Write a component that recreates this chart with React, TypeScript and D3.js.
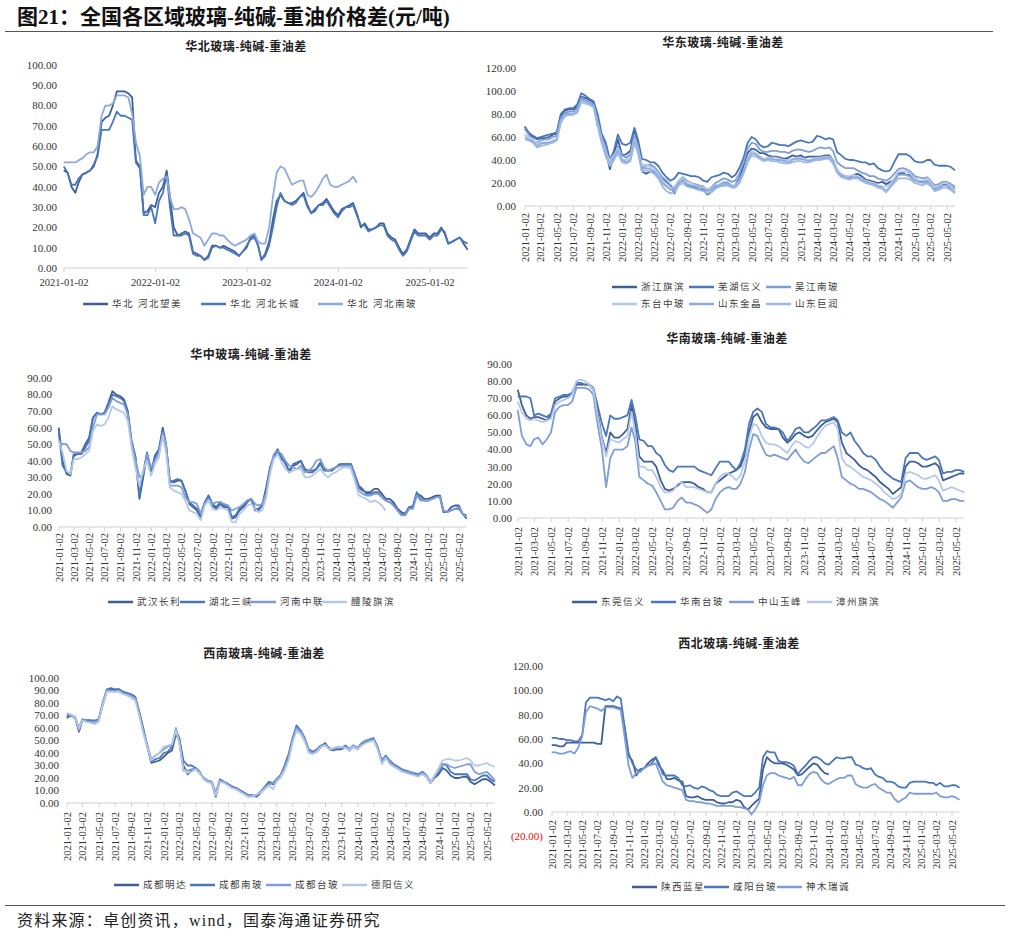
import React from 'react';
import * as d3 from 'd3';

// semi-monthly sampling grid: 2021-01-01 ... 2025-06-01 (107 points)
const MONTHS = d3.timeMonth.range(new Date(2021, 0, 1), new Date(2025, 6, 1));
const DATES: Date[] = MONTHS.flatMap(m => [m, d3.timeDay.offset(m, 15)]).slice(0, 107);

// 华北
const HB_WANGMEI = [48,47,40,37,42,46,47,48,50,56, 72,74,75,80,87,87,87,86,84,53, 50,27,28,31,30,37,40,48,35,20, 16,17,18,17,8,7,6,4,6,11, 11,10,11,10,9,8,6,8,10,15, 16,11,4,7,13,24,33,36,33,32, 32,33,35,37,31,27,29,31,32,34, 31,28,26,29,30,31,32,27,20,22, 19,19,20,22,22,17,15,14,10,7, 9,14,19,17,17,17,15,17,17,20, 17,12,13,14,15,12,9];
const HB_CHANGCHENG = [50,47,41,41,44,46,47,48,51,55, 68,68,68,72,77,75,75,74,73,52, 49,26,26,30,22,33,37,46,30,16, 16,16,17,16,7,6,6,4,5,10, 11,10,10,9,8,7,6,8,11,14, 15,11,4,6,11,20,30,37,33,32, 31,32,35,36,30,27,28,31,31,33, 30,27,25,28,30,30,31,26,21,21, 18,19,20,21,21,16,14,13,9,6, 8,13,18,16,16,16,14,16,16,19, 18,12,13,14,15,13,12];
const HB_NANBO = [52,52,52,52,53,54,56,57,57,60, 75,80,80,81,85,85,85,84,76,62, 55,36,40,40,36,42,44,45,35,29, 29,30,29,24,17,16,15,11,14,17, 17,16,16,14,12,11,12,13,14,16, 17,13,12,12,20,35,47,50,49,45, 41,42,43,43,36,35,37,40,44,46, 41,40,40,41,42,43,45,42];

// 华东
const HD_ZJQB = [69,63,60,58,59,59,60,62,63,78, 83,84,84,86,95,94,92,90,70,62, 48,32,45,58,44,45,48,66,55,30, 28,30,29,26,24,21,18,11,20,23, 18,17,16,14,14,10,12,16,17,18, 18,17,18,24,35,46,50,49,46,46, 44,43,43,42,41,42,44,43,44,42, 43,43,43,43,44,44,40,30,27,26, 25,27,28,26,23,22,21,20,21,19, 21,22,28,29,27,27,24,22,21,20, 18,15,17,19,19,17,15];
const HD_WHXY = [69,64,61,59,60,61,62,63,64,80, 84,85,85,88,98,96,93,91,80,63, 55,40,48,62,54,53,55,68,58,41, 40,38,38,35,29,25,22,24,29,28, 27,26,26,25,22,21,25,26,27,29, 28,25,27,33,42,55,60,58,53,51, 52,55,54,53,53,52,54,56,57,56, 55,56,61,60,58,59,58,47,44,41, 40,40,39,38,38,36,37,33,31,30, 31,38,45,45,45,43,39,38,38,40, 40,36,35,35,35,34,31];
const HD_WJNB = [67,62,57,55,57,58,58,60,61,76, 81,82,82,84,94,92,90,88,74,60, 50,35,40,52,44,42,45,62,52,33, 35,36,34,30,25,22,18,15,22,25, 22,20,19,18,17,14,16,20,22,24, 23,21,22,28,38,50,55,54,49,47, 47,48,48,47,47,46,48,49,49,48, 47,48,50,51,50,51,48,38,35,33, 33,33,31,29,28,26,26,24,23,22, 24,28,32,33,32,30,26,25,24,25, 22,18,19,21,21,19,17];
const HD_DTZB = [62,60,58,54,55,55,55,57,58,72, 78,79,79,81,90,89,88,86,72,58, 46,40,44,50,40,40,42,58,50,36, 36,34,32,28,22,18,15,17,22,24, 21,20,18,17,16,15,15,18,19,21, 21,18,18,22,30,42,48,46,43,41, 42,42,42,41,40,40,41,42,42,41, 40,41,42,42,43,43,40,32,28,26, 26,27,26,24,22,21,20,18,17,17, 19,24,30,30,30,28,24,22,22,24, 21,16,17,20,20,17,14];
const HD_SDJJ = [60,58,56,52,54,55,55,56,58,74, 80,80,80,82,92,91,89,87,72,56, 44,36,42,48,40,38,40,56,48,32, 33,32,30,26,20,17,14,14,20,22, 19,18,17,16,15,13,14,17,18,20, 20,17,17,21,30,40,46,45,42,40, 41,41,40,40,39,38,40,41,41,40, 39,40,41,41,42,42,39,30,26,25, 24,25,25,23,21,20,19,17,16,13, 17,22,27,27,27,25,22,21,20,22, 19,14,15,18,18,15,12];
const HD_SDJR = [58,57,55,51,52,53,54,55,57,73, 79,79,80,81,91,90,88,86,70,55, 43,35,40,46,38,37,39,55,46,30, 31,30,28,24,17,13,11,12,18,20, 17,16,15,14,13,11,12,15,17,18, 18,16,16,20,28,38,44,43,41,39, 40,39,39,38,37,37,38,39,39,38, 38,39,40,40,41,41,37,29,25,24, 23,24,24,22,20,19,18,16,15,12, 16,20,24,24,24,23,20,19,18,20, 18,13,14,16,16,14,11];

// 华中
const HZ_WHCL = [60,40,32,31,43,44,45,50,54,66, 69,68,69,75,82,80,79,77,70,52, 42,17,30,44,33,43,47,60,50,28, 27,28,28,22,14,12,10,6,14,19, 13,11,14,12,12,5,6,10,12,15, 17,10,10,13,24,36,43,47,41,39, 33,37,38,40,35,34,34,35,39,35, 34,34,36,38,38,38,38,31,24,22, 21,21,23,23,20,17,17,15,11,9, 8,12,12,20,19,17,17,18,19,19, 10,9,12,13,13,8,5];
const HZ_HBSX = [57,37,33,32,44,44,44,48,52,66, 69,68,69,74,80,79,78,76,68,50, 40,18,33,45,34,41,46,58,49,27, 28,29,28,22,15,13,11,8,15,19, 14,12,15,13,13,6,7,11,13,16, 17,11,11,13,22,35,42,46,42,38, 34,38,39,40,34,33,33,35,38,34, 34,35,36,37,38,38,38,32,25,23, 20,20,21,21,18,16,15,14,10,8, 7,11,13,21,17,16,16,17,18,18, 9,9,10,11,11,8,7];
const HZ_HNZL = [52,50,50,46,45,45,45,46,48,60, 68,68,68,72,78,76,75,74,68,50, 40,30,32,44,36,40,45,57,50,25, 25,25,24,18,15,15,14,8,14,17, 14,15,15,14,13,10,11,12,14,16, 17,14,13,14,20,34,44,46,44,40, 37,36,35,37,33,34,36,40,41,36, 34,35,36,37,37,37,37,30,22,20, 19,19,20,20,18,16,15,13,10,7, 7,11,11,19,16,16,16,17,18,18, 10,9,10,11,12,8,6];
const HZ_LLQB = [52,45,34,32,41,41,42,44,46,58, 62,61,62,66,73,71,70,69,64,48, 35,25,35,40,31,38,42,55,45,24, 22,21,20,16,10,9,8,4,13,16, 11,10,12,11,10,3,3,8,10,13, 14,11,9,10,18,32,41,44,39,35, 33,34,35,35,30,30,31,33,35,32, 30,32,33,35,36,36,35,28,19,18, 17,15,16,15,13,10];

// 华南
const HN_DGXY = [75,66,60,58,59,59,58,57,60,68, 70,71,71,73,78,78,78,78,75,62, 47,38,50,47,47,49,52,66,55,36, 33,33,33,30,22,17,16,17,19,21, 21,21,20,18,17,15,15,20,22,24, 26,27,28,30,37,50,59,61,56,53, 52,52,52,47,44,46,49,50,48,47, 48,51,54,56,57,58,56,44,38,36, 34,31,29,28,26,24,21,19,17,14, 16,18,30,33,33,32,30,30,31,32, 30,22,23,24,25,26,26];
const HN_HNTB = [71,71,71,70,60,61,60,59,61,70, 71,72,72,73,79,79,78,78,76,66, 55,48,60,58,58,59,60,69,60,46, 45,42,42,38,36,31,28,27,30,30, 30,30,30,28,27,26,25,29,33,33, 33,30,28,32,40,55,62,64,62,55, 53,53,52,50,45,48,52,53,50,50, 52,54,57,57,58,59,57,50,48,50, 45,42,38,36,36,34,30,27,25,23, 22,21,35,38,38,38,35,34,35,36, 34,26,27,27,28,28,27];
const HN_ZSYF = [63,48,43,42,46,47,43,46,50,62, 65,66,66,68,76,76,76,75,72,55, 40,18,35,40,40,40,42,53,45,24, 22,20,19,15,10,5,5,6,10,12, 9,9,8,7,5,3,5,11,15,17, 18,17,17,20,27,40,49,48,42,37, 36,37,36,35,34,37,40,36,33,32, 34,36,38,38,40,42,35,24,22,20, 19,17,17,16,15,13,11,10,8,6, 9,12,21,22,20,18,17,17,18,17, 15,10,10,11,11,10,10];
const HN_ZZQB = [68,62,58,57,58,57,56,57,58,66, 68,69,70,72,80,81,80,78,75,60, 46,36,46,45,44,46,48,62,50,30, 30,28,28,24,18,15,15,16,20,21, 18,18,18,17,16,15,15,20,24,26, 26,24,22,25,33,47,55,54,48,44, 43,43,42,40,38,42,45,44,42,41, 43,47,51,54,55,56,52,35,31,30, 28,26,24,23,22,20,18,15,13,11, 12,14,26,27,26,25,23,23,24,25, 22,16,17,18,17,16,15];

// 西南
const XN_CDMD = [68,70,69,57,66,66,66,65,66,78, 90,91,90,91,89,88,87,85,73,60, 45,32,33,34,37,40,42,55,50,30, 23,26,28,25,19,17,16,5,18,17, 15,13,12,10,8,6,6,5,8,12, 16,15,18,21,28,37,50,60,57,51, 42,40,41,45,48,43,42,43,43,45, 42,45,43,47,49,50,51,45,33,37, 33,30,28,26,25,24,23,22,24,21, 16,20,23,28,26,22,20,20,21,21, 17,15,17,19,19,17,14];
const XN_CDNB = [70,70,69,60,67,66,66,66,67,80, 91,92,91,91,89,88,86,84,72,58, 44,33,35,36,40,41,45,58,52,34, 30,30,28,24,20,18,17,8,19,17, 15,13,12,10,8,6,6,6,9,13, 17,16,19,22,30,39,52,62,58,52, 43,41,43,46,47,44,43,44,44,46, 43,46,44,48,50,51,52,44,34,38, 34,31,29,27,26,25,24,23,25,22, 17,21,25,31,30,25,23,23,23,23, 19,18,20,22,22,19,17];
const XN_CDTB = [71,70,68,58,67,65,65,65,66,79, 90,90,89,90,88,87,86,84,71,58, 46,35,38,40,43,45,46,60,48,26, 26,27,27,24,20,18,17,7,18,17, 14,12,11,9,7,5,6,6,9,12, 15,16,19,21,28,36,50,60,57,51, 42,40,42,45,47,43,43,44,44,45, 43,46,44,48,50,50,51,44,33,37, 33,30,28,26,25,25,23,22,24,22, 16,21,26,31,31,29,28,29,30,31, 31,25,23,24,25,22,18];
const XN_DYXY = [72,71,69,60,66,65,64,63,65,78, 89,89,89,89,87,86,84,82,70,56, 44,34,38,40,45,46,47,58,48,27, 24,25,27,24,19,17,16,6,17,16, 14,12,11,9,7,5,5,7,8,11, 14,11,17,20,26,34,48,58,55,49, 40,39,41,45,46,43,44,45,45,44, 42,45,43,46,48,49,50,43,31,36, 31,29,27,25,24,23,22,21,23,21, 16,22,28,34,35,35,34,34,35,36, 34,30,30,31,32,30,29];

// 西北
const XB_SXLX = [55,55,54,54,57,57,57,57,57,57, 57,57,56,56,87,87,87,86,85,70, 46,42,30,35,36,40,43,45,38,34, 27,27,28,26,25,13,12,12,13,11, 10,10,10,8,7,7,8,8,10,9, 4,2,5,8,11,35,45,42,40,40, 40,39,37,35,30,31,34,37,40,39, 35,32,31];
const XB_XYTB = [61,61,60,60,59,59,58,58,63,90, 94,94,94,93,92,93,91,95,93,70, 48,40,35,33,36,38,40,45,40,31, 30,30,30,28,22,21,22,20,19,21, 20,18,17,14,13,13,13,16,17,15, 13,13,13,16,20,45,50,49,49,42, 41,41,40,38,31,35,38,42,45,45, 43,40,39,42,45,44,44,45,45,39, 38,36,35,36,31,29,28,25,25,24, 21,20,20,24,25,25,25,25,24,24, 22,24,21,21,22,22,20];
const XB_SMRC = [49,49,48,48,49,50,48,53,62,82, 87,86,85,83,86,86,86,85,84,62, 38,28,32,33,36,38,39,40,33,25, 22,21,20,19,18,10,9,9,8,8, 7,7,6,5,5,5,5,5,4,4, 3,2,-2,2,8,22,30,32,32,30, 29,28,27,29,22,22,27,31,33,32, 27,24,23,25,27,28,28,30,30,23, 21,20,20,22,23,20,18,16,16,11, 8,10,12,16,15,15,15,15,15,15, 16,13,12,12,13,12,10];

const DARK = '#3e5f96';
const MID = '#4a77ba';
const LMID = '#7e9ed5';
const LIGHT = '#b6c8e8';
const SOFT = '#8eaadc';
const SKY = '#9bb9e4';

type Series = { name: string; color: string; values: number[] };
type PanelSpec = {
  title: string; titleX: number; titleY: number;
  tickA: number; tickB: number; yearly: boolean;
  yZero: number; yTop: number; yMax: number; yMin: number; yStep: number;
  labelRight: number; labelTop: number;
  legendX: number[]; legendY: number[];
  series: Series[];
};

const PANELS: PanelSpec[] = [
  {
    title: '华北玻璃-纯碱-重油差', titleX: 246, titleY: 47,
    tickA: 64, tickB: 430, yearly: true,
    yZero: 268, yTop: 65, yMax: 100, yMin: 0, yStep: 10,
    labelRight: 57, labelTop: 286,
    legendX: [83, 201, 318], legendY: [304],
    series: [
      { name: '华北 河北望美', color: DARK, values: HB_WANGMEI },
      { name: '华北 河北长城', color: MID, values: HB_CHANGCHENG },
      { name: '华北 河北南玻', color: SOFT, values: HB_NANBO },
    ],
  },
  {
    title: '华东玻璃-纯碱-重油差', titleX: 723, titleY: 43,
    tickA: 525, tickB: 947, yearly: false,
    yZero: 206, yTop: 68, yMax: 120, yMin: 0, yStep: 20,
    labelRight: 516, labelTop: 213,
    legendX: [612, 689, 766], legendY: [287, 304],
    series: [
      { name: '浙江旗滨', color: DARK, values: HD_ZJQB },
      { name: '芜湖信义', color: MID, values: HD_WHXY },
      { name: '吴江南玻', color: LMID, values: HD_WJNB },
      { name: '东台中玻', color: LIGHT, values: HD_DTZB },
      { name: '山东金晶', color: SOFT, values: HD_SDJJ },
      { name: '山东巨润', color: SKY, values: HD_SDJR },
    ],
  },
  {
    title: '华中玻璃-纯碱-重油差', titleX: 251, titleY: 355,
    tickA: 59, tickB: 459, yearly: false,
    yZero: 527, yTop: 378, yMax: 90, yMin: 0, yStep: 10,
    labelRight: 52, labelTop: 533,
    legendX: [108, 180, 251, 322], legendY: [602],
    series: [
      { name: '武汉长利', color: DARK, values: HZ_WHCL },
      { name: '湖北三峡', color: MID, values: HZ_HBSX },
      { name: '河南中联', color: LMID, values: HZ_HNZL },
      { name: '醴陵旗滨', color: LIGHT, values: HZ_LLQB },
    ],
  },
  {
    title: '华南玻璃-纯碱-重油差', titleX: 727, titleY: 339,
    tickA: 518, tickB: 956, yearly: false,
    yZero: 518, yTop: 364, yMax: 90, yMin: 0, yStep: 10,
    labelRight: 512, labelTop: 527,
    legendX: [572, 651, 729, 807], legendY: [602],
    series: [
      { name: '东莞信义', color: DARK, values: HN_DGXY },
      { name: '华南台玻', color: MID, values: HN_HNTB },
      { name: '中山玉峰', color: LMID, values: HN_ZSYF },
      { name: '漳州旗滨', color: LIGHT, values: HN_ZZQB },
    ],
  },
  {
    title: '西南玻璃-纯碱-重油差', titleX: 264, titleY: 654,
    tickA: 67, tickB: 487, yearly: false,
    yZero: 803, yTop: 678, yMax: 100, yMin: 0, yStep: 10,
    labelRight: 59, labelTop: 812,
    legendX: [114, 190, 266, 342], legendY: [885],
    series: [
      { name: '成都明达', color: DARK, values: XN_CDMD },
      { name: '成都南玻', color: MID, values: XN_CDNB },
      { name: '成都台玻', color: LMID, values: XN_CDTB },
      { name: '德阳信义', color: LIGHT, values: XN_DYXY },
    ],
  },
  {
    title: '西北玻璃-纯碱-重油差', titleX: 739, titleY: 644,
    tickA: 552, tickB: 952, yearly: false,
    yZero: 812, yTop: 666, yMax: 120, yMin: -20, yStep: 20,
    labelRight: 543, labelTop: 820,
    legendX: [632, 704, 777], legendY: [887],
    series: [
      { name: '陕西蓝星', color: DARK, values: XB_SXLX },
      { name: '咸阳台玻', color: MID, values: XB_XYTB },
      { name: '神木瑞诚', color: LMID, values: XB_SMRC },
    ],
  },
];

const FONT = "'Liberation Serif', 'Noto Sans CJK SC', serif";
const fmt = d3.timeFormat('%Y-%m-%d');

function tickDates(yearly: boolean): Date[] {
  const out: Date[] = [];
  if (yearly) {
    for (let y = 2021; y <= 2025; y++) out.push(new Date(y, 0, 2));
  } else {
    for (let y = 2021; y <= 2025; y++)
      for (let m = 0; m < 12; m += 2) {
        const d = new Date(y, m, 2);
        if (d <= new Date(2025, 4, 2)) out.push(d);
      }
  }
  return out;
}

const Panel: React.FC<{ p: PanelSpec }> = ({ p }) => {
  const ticks = tickDates(p.yearly);
  const x = d3.scaleTime()
    .domain([ticks[0], ticks[ticks.length - 1]])
    .range([p.tickA, p.tickB]);
  const y = d3.scaleLinear().domain([0, p.yMax]).range([p.yZero, p.yTop]);
  const xEnd = x(DATES[DATES.length - 1]);
  const line = d3.line<number>()
    .x((_, i) => x(DATES[i]))
    .y(v => y(v));
  const yTicks = d3.range(p.yMin, p.yMax + 0.001, p.yStep);
  const perRow = Math.ceil(p.series.length / p.legendY.length);

  return (
    <g>
      <text x={p.titleX} y={p.titleY} dy="0.35em" textAnchor="middle"
        fontSize={12} fontWeight="bold" fill="#222" letterSpacing={0.5}>{p.title}</text>
      {yTicks.map(v => (
        <text key={v} x={p.labelRight} y={y(v)} dy="0.35em" textAnchor="end"
          fontSize={11} fill={v < 0 ? '#ff0000' : '#333'}>
          {v < 0 ? `(${Math.abs(v).toFixed(2)})` : v.toFixed(2)}
        </text>
      ))}
      <line x1={x(DATES[0])} x2={xEnd} y1={p.yZero} y2={p.yZero} stroke="#d0d0d0" strokeWidth={1} />
      {ticks.map(d => (
        <line key={+d} x1={x(d)} x2={x(d)} y1={p.yZero} y2={p.yZero + 4} stroke="#d0d0d0" />
      ))}
      {ticks.map(d => p.yearly ? (
        <text key={'l' + +d} x={x(d)} y={p.labelTop} textAnchor="middle" fontSize={10.5} fill="#333">{fmt(d)}</text>
      ) : (
        <text key={'l' + +d} transform={`translate(${x(d)},${p.labelTop}) rotate(-90)`}
          textAnchor="end" dy="0.35em" fontSize={10.5} fill="#333">{fmt(d)}</text>
      ))}
      {p.series.map(s => (
        <path key={s.name} d={line(s.values) ?? ''} fill="none" stroke={s.color}
          strokeWidth={1.8} strokeLinejoin="round" />
      ))}
      {p.series.map((s, i) => {
        const lx = p.legendX[i % perRow];
        const ly = p.legendY[Math.floor(i / perRow)];
        return (
          <g key={'lg' + s.name}>
            <line x1={lx} x2={lx + 25} y1={ly} y2={ly} stroke={s.color} strokeWidth={2.5} />
            <text x={lx + 29} y={ly} dy="0.35em" fontSize={9.5} letterSpacing={1.5} fill="#404040">{s.name}</text>
          </g>
        );
      })}
    </g>
  );
};

export default function App() {
  return (
    <svg width={1015} height={936} style={{ position: 'absolute', left: 0, top: 0, background: '#fff' }}
      fontFamily={FONT}>
      <text x={17} y={24} fontSize={21} fontWeight="bold" fill="#111">图21：全国各区域玻璃-纯碱-重油价格差(元/吨)</text>
      <line x1={5} x2={993} y1={31.5} y2={31.5} stroke="#555" strokeWidth={1} />
      {PANELS.map(p => <Panel key={p.title} p={p} />)}
      <line x1={5} x2={1005} y1={905.5} y2={905.5} stroke="#555" strokeWidth={1} />
      <text x={17} y={926} fontSize={16} letterSpacing={1.2} fill="#222">资料来源：卓创资讯，wind，国泰海通证券研究</text>
    </svg>
  );
}
